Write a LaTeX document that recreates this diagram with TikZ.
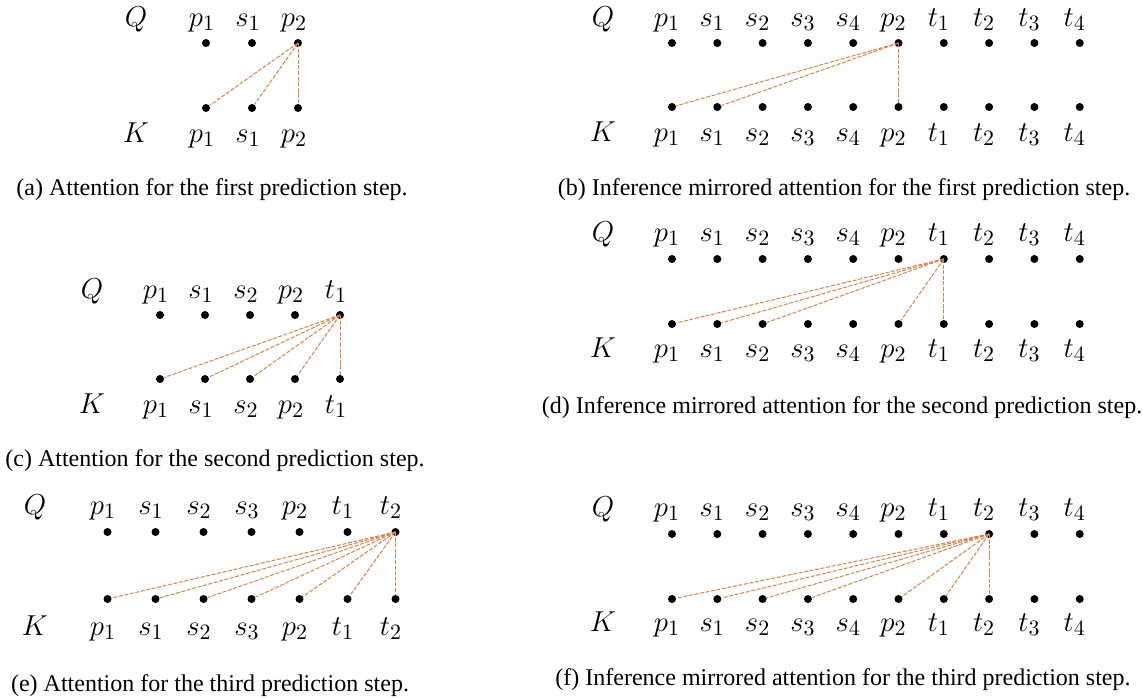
\documentclass[tikz,border=0pt]{standalone}
\usepackage{fontspec}
\setmainfont{Liberation Serif}
\usepackage{xcolor}
\usepackage{tikz}
\usetikzlibrary{positioning, calc}
\definecolor{attorange}{RGB}{222,128,72}
\tikzset{
  tokdot/.style={
    circle, fill=black, inner sep=0pt, minimum size=4pt
  },
  toklabel/.style={
    font=\fontsize{15}{17}\selectfont, inner sep=0pt, anchor=base
  },
  rowlabel/.style={
    font=\fontsize{15}{17}\selectfont, inner sep=0pt, anchor=base
  },
  attline/.style={
    draw=attorange, dash pattern=on 2pt off 0.8pt, line width=0.5pt
  },
  captext/.style={
    font=\fontsize{12}{14}\selectfont, inner sep=0pt, anchor=base
  },
}

\begin{document}
\begin{tikzpicture}[x=0.5pt, y=-0.5pt]
  \useasboundingbox (0,0) rectangle (1143,697);

  % (a) first prediction step
  \node[rowlabel] (a-Q) at (136,26) {$Q$};
  \node[rowlabel] (a-K) at (136,142) {$K$};
  \foreach \tok [count=\i] in {p_1,s_1,p_2} {
    \node[tokdot] (a-q\i) at ({206+46*(\i-1)},43) {};
    \node[tokdot] (a-k\i) at ({206+46*(\i-1)},108) {};
    \node[toklabel] (a-lq\i) at ({202+46*(\i-1)},26) {$\tok$};
    \node[toklabel] (a-lk\i) at ({202+46*(\i-1)},142) {$\tok$};
  }
  \foreach \j in {1,2,3} \draw[attline] (a-q3.center) -- (a-k\j);
  \node[captext] (a-cap) at (212,195) {(a) Attention for the first prediction step.};

  % (b) mirrored, first step
  \node[rowlabel] (b-Q) at (603,26) {$Q$};
  \node[rowlabel] (b-K) at (603,141) {$K$};
  \foreach \tok [count=\i] in {p_1,s_1,s_2,s_3,s_4,p_2,t_1,t_2,t_3,t_4} {
    \node[tokdot] (b-q\i) at ({672+45.3*(\i-1)},43) {};
    \node[tokdot] (b-k\i) at ({672+45.3*(\i-1)},107) {};
    \node[toklabel] (b-lq\i) at ({667+45.3*(\i-1)},26) {$\tok$};
    \node[toklabel] (b-lk\i) at ({667+45.3*(\i-1)},141) {$\tok$};
  }
  \foreach \j in {1,2,6} \draw[attline] (b-q6.center) -- (b-k\j);
  \node[captext] (b-cap) at (844,195) {(b) Inference mirrored attention for the first prediction step.};

  % (c) second prediction step
  \node[rowlabel] (c-Q) at (92,298) {$Q$};
  \node[rowlabel] (c-K) at (92,413) {$K$};
  \foreach \tok [count=\i] in {p_1,s_1,s_2,p_2,t_1} {
    \node[tokdot] (c-q\i) at ({160+45*(\i-1)},315) {};
    \node[tokdot] (c-k\i) at ({160+45*(\i-1)},379) {};
    \node[toklabel] (c-lq\i) at ({156+45*(\i-1)},298) {$\tok$};
    \node[toklabel] (c-lk\i) at ({156+45*(\i-1)},413) {$\tok$};
  }
  \foreach \j in {1,...,5} \draw[attline] (c-q5.center) -- (c-k\j);
  \node[captext] (c-cap) at (215,466) {(c) Attention for the second prediction step.};

  % (d) mirrored, second step
  \node[rowlabel] (d-Q) at (603,241) {$Q$};
  \node[rowlabel] (d-K) at (603,357) {$K$};
  \foreach \tok [count=\i] in {p_1,s_1,s_2,s_3,s_4,p_2,t_1,t_2,t_3,t_4} {
    \node[tokdot] (d-q\i) at ({672+45.3*(\i-1)},259) {};
    \node[tokdot] (d-k\i) at ({672+45.3*(\i-1)},324) {};
    \node[toklabel] (d-lq\i) at ({667+45.3*(\i-1)},241) {$\tok$};
    \node[toklabel] (d-lk\i) at ({667+45.3*(\i-1)},357) {$\tok$};
  }
  \foreach \j in {1,2,3,6,7} \draw[attline] (d-q7.center) -- (d-k\j);
  \node[captext] (d-cap) at (842,413) {(d) Inference mirrored attention for the second prediction step.};

  % (e) third prediction step
  \node[rowlabel] (e-Q) at (35,514) {$Q$};
  \node[rowlabel] (e-K) at (35,635) {$K$};
  \foreach \tok [count=\i] in {p_1,s_1,s_2,s_3,p_2,t_1,t_2} {
    \node[tokdot] (e-q\i) at ({107.5+48*(\i-1)},532) {};
    \node[tokdot] (e-k\i) at ({107.5+48*(\i-1)},599) {};
    \node[toklabel] (e-lq\i) at ({103+48*(\i-1)},514) {$\tok$};
    \node[toklabel] (e-lk\i) at ({103+48*(\i-1)},635) {$\tok$};
  }
  \foreach \j in {1,...,7} \draw[attline] (e-q7.center) -- (e-k\j);
  \node[captext] (e-cap) at (210,691) {(e) Attention for the third prediction step.};

  % (f) mirrored, third step
  \node[rowlabel] (f-Q) at (603,516) {$Q$};
  \node[rowlabel] (f-K) at (603,631) {$K$};
  \foreach \tok [count=\i] in {p_1,s_1,s_2,s_3,s_4,p_2,t_1,t_2,t_3,t_4} {
    \node[tokdot] (f-q\i) at ({672+45.3*(\i-1)},534) {};
    \node[tokdot] (f-k\i) at ({672+45.3*(\i-1)},599) {};
    \node[toklabel] (f-lq\i) at ({667+45.3*(\i-1)},516) {$\tok$};
    \node[toklabel] (f-lk\i) at ({667+45.3*(\i-1)},631) {$\tok$};
  }
  \foreach \j in {1,2,3,4,6,7,8} \draw[attline] (f-q8.center) -- (f-k\j);
  \node[captext] (f-cap) at (843,685) {(f) Inference mirrored attention for the third prediction step.};
\end{tikzpicture}
\end{document}
